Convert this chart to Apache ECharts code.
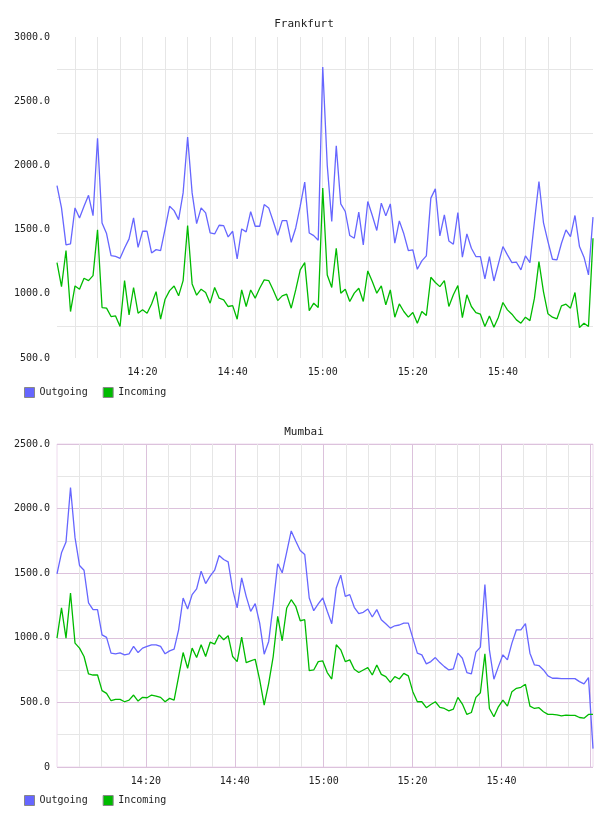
<!DOCTYPE html>
<html>
<head>
<meta charset="utf-8">
<title>Frankfurt / Mumbai traffic</title>
<script src="https://cdn.jsdelivr.net/npm/echarts@6/dist/echarts.min.js"></script>
<style>
  html, body { margin: 0; padding: 0; background: #fff; }
  #chart { width: 608px; height: 816px; }
</style>
</head>
<body>
<div id="chart"></div>
<script>
// one sample per minute, Frankfurt 14:01 -> 16:00
const frankfurtOut = [
  1843, 1669, 1381, 1389, 1669, 1591, 1682, 1767, 1609, 2212,
  1552, 1469, 1297, 1291, 1276, 1357, 1428, 1591, 1362, 1487,
  1487, 1318, 1344, 1336, 1505, 1682, 1648, 1578, 1786, 2220,
  1786, 1547, 1669, 1630, 1474, 1466, 1534, 1531, 1443, 1487,
  1271, 1505, 1482, 1640, 1526, 1526, 1695, 1669, 1565, 1456,
  1570, 1570, 1401, 1513, 1682, 1870, 1474, 1453, 1417, 2766,
  2000, 1563, 2152, 1700, 1641, 1454, 1433, 1636, 1381, 1719,
  1610, 1493, 1706, 1607, 1700, 1394, 1568, 1467, 1337, 1342,
  1191, 1256, 1295, 1745, 1817, 1451, 1615, 1412, 1386, 1633,
  1285, 1467, 1355, 1290, 1290, 1116, 1290, 1100, 1233, 1368,
  1303, 1243, 1246, 1186, 1295, 1243, 1563, 1874, 1555, 1407,
  1269, 1264, 1394, 1498, 1446, 1610, 1368, 1285, 1147, 1597
]
const frankfurtIn = [
  1243, 1056, 1337, 862, 1061, 1036, 1121, 1103, 1142, 1498,
  893, 888, 823, 828, 745, 1103, 836, 1049, 849, 875,
  849, 921, 1017, 802, 958, 1025, 1061, 984, 1103, 1532,
  1077, 989, 1036, 1010, 927, 1049, 966, 953, 901, 908,
  802, 1030, 901, 1030, 966, 1043, 1108, 1103, 1030, 947,
  984, 997, 888, 1030, 1186, 1243, 869, 927, 893, 1823,
  1147, 1049, 1355, 1005, 1036, 940, 1005, 1043, 940, 1178,
  1095, 1005, 1061, 914, 1030, 818, 921, 862, 818, 854,
  771, 862, 831, 1129, 1088, 1056, 1103, 901, 992, 1064,
  815, 992, 901, 854, 841, 745, 828, 740, 818, 932,
  875, 841, 797, 771, 818, 791, 966, 1251, 1017, 844,
  818, 805, 906, 919, 888, 1010, 737, 771, 745, 1433
]
// Mumbai 14:00 -> ~16:00
const mumbaiOut = [
  1495, 1658, 1741, 2163, 1775, 1560, 1523, 1270, 1218, 1218,
  1023, 1003, 881, 876, 883, 868, 876, 933, 886, 920,
  933, 946, 946, 933, 876, 899, 912, 1062, 1308, 1223,
  1334, 1378, 1516, 1420, 1477, 1523, 1637, 1606, 1588, 1373,
  1231, 1464, 1321, 1205, 1264, 1114, 873, 972, 1257, 1573,
  1503, 1663, 1827, 1749, 1676, 1645, 1308, 1210, 1262, 1308,
  1205, 1109, 1386, 1485, 1321, 1334, 1236, 1187, 1197, 1223,
  1161, 1218, 1140, 1109, 1075, 1093, 1099, 1114, 1114, 997,
  881, 868, 798, 816, 847, 808, 777, 751, 759, 881,
  842, 731, 720, 889, 928, 1412, 907, 679, 777, 868,
  829, 959, 1062, 1062, 1109, 881, 790, 785, 751, 705,
  687, 687, 684, 684, 684, 684, 661, 643, 692, 142
]
const mumbaiIn = [
  997, 1231, 997, 1347, 959, 920, 855, 720, 712, 712,
  591, 570, 513, 523, 523, 505, 518, 557, 510, 539,
  536, 557, 549, 539, 505, 531, 518, 700, 886, 764,
  920, 847, 946, 855, 966, 951, 1023, 985, 1016, 855,
  816, 1005, 808, 821, 834, 674, 479, 648, 855, 1166,
  977, 1231, 1295, 1244, 1132, 1140, 746, 751, 816, 821,
  731, 681, 946, 907, 816, 829, 756, 731, 751, 769,
  712, 790, 717, 700, 655, 700, 681, 725, 705, 583,
  505, 505, 459, 484, 505, 461, 453, 435, 448, 539,
  487, 407, 422, 539, 575, 876, 453, 389, 466, 518,
  471, 583, 609, 617, 640, 471, 453, 459, 428, 407,
  407, 404, 396, 402, 399, 399, 383, 378, 407, 407
]
const timeTicks = ['14:20', '14:40', '15:00', '15:20', '15:40']

const FONT = 'DejaVu Sans Mono'
const BLUE = '#6666ff'
const GREEN = '#00bb00'
const GRAY = '#e6e6e6'
const PURPLE = '#dcc2dc'

function minuteLabels (startMin, n) {
  const out = []
  for (let i = 0; i < n; i++) {
    const t = startMin + i
    const h = 14 + Math.floor(t / 60)
    const m = t % 60
    out.push(h + ':' + (m < 10 ? '0' : '') + m)
  }
  return out
}
const frankfurtTimes = minuteLabels(1, frankfurtOut.length)
const mumbaiTimes = minuteLabels(0, mumbaiOut.length)

const chart = echarts.init(document.getElementById('chart'))

// hidden axis that carries the samples
function sampleAxis (gridIndex, data) {
  return { type: 'category', gridIndex: gridIndex, position: 'top', show: false, boundaryGap: false, data: data }
}

// visible clock axis, minutes after 14:00
function timeAxis (gridIndex, min, max, majorColor) {
  return {
    type: 'value',
    gridIndex: gridIndex,
    position: 'bottom',
    min: min,
    max: max,
    minInterval: 20,
    maxInterval: 20,
    axisLine: { show: false },
    axisTick: { show: false },
    axisLabel: {
      margin: 9,
      fontFamily: FONT,
      fontSize: 10,
      color: '#222',
      formatter: v => timeTicks[v / 20 - 1] || ''
    },
    splitLine: { show: true, showMinLine: false, showMaxLine: false, lineStyle: { color: majorColor } },
    minorTick: { show: false, splitNumber: 4 },
    minorSplitLine: { show: true, lineStyle: { color: GRAY } }
  }
}

function valueAxis (gridIndex, min, max, majorLine) {
  return {
    type: 'value',
    gridIndex: gridIndex,
    min: min,
    max: max,
    interval: 500,
    axisLine: { show: false },
    axisTick: { show: false },
    axisLabel: {
      margin: 7,
      fontFamily: FONT,
      fontSize: 10,
      color: '#222',
      formatter: v => (v === 0 ? '0' : v.toFixed(1))
    },
    splitLine: majorLine ? { show: true, lineStyle: { color: PURPLE } } : { show: false },
    minorTick: { show: false, splitNumber: 2 },
    minorSplitLine: { show: true, lineStyle: { color: GRAY } }
  }
}

function legend (top) {
  return {
    data: ['Outgoing', 'Incoming'],
    left: 24,
    top: top,
    padding: 0,
    icon: 'rect',
    itemWidth: 10,
    itemHeight: 10,
    itemGap: 15,
    itemStyle: { borderColor: '#888', borderWidth: 1 },
    textStyle: { fontFamily: FONT, fontSize: 10, color: '#222' }
  }
}

function line (name, color, xIdx, yIdx, data) {
  return {
    name: name,
    type: 'line',
    xAxisIndex: xIdx,
    yAxisIndex: yIdx,
    showSymbol: false,
    symbol: 'none',
    lineStyle: { color: color, width: 1.3 },
    itemStyle: { color: color },
    data: data
  }
}

chart.setOption({
  animation: false,
  title: [
    { text: 'Frankfurt', left: 'center', top: 14, textStyle: { fontFamily: FONT, fontSize: 11, fontWeight: 'normal', color: '#222' } },
    { text: 'Mumbai', left: 'center', top: 422, textStyle: { fontFamily: FONT, fontSize: 11, fontWeight: 'normal', color: '#222' } }
  ],
  legend: [legend(387), legend(795)],
  grid: [
    { left: 57, right: 15, top: 37, height: 321 },
    { left: 57, right: 15, top: 444, height: 323, show: true, borderColor: '#eedaee', borderWidth: 1 }
  ],
  xAxis: [
    sampleAxis(0, frankfurtTimes),
    timeAxis(0, 1, 120, GRAY),
    sampleAxis(1, mumbaiTimes),
    timeAxis(1, 0, 120.6, PURPLE)
  ],
  yAxis: [
    valueAxis(0, 500, 3000, false),
    valueAxis(1, 0, 2500, true)
  ],
  series: [
    line('Outgoing', BLUE, 0, 0, frankfurtOut),
    line('Incoming', GREEN, 0, 0, frankfurtIn),
    line('Outgoing', BLUE, 2, 1, mumbaiOut),
    line('Incoming', GREEN, 2, 1, mumbaiIn)
  ]
})
</script>
</body>
</html>
